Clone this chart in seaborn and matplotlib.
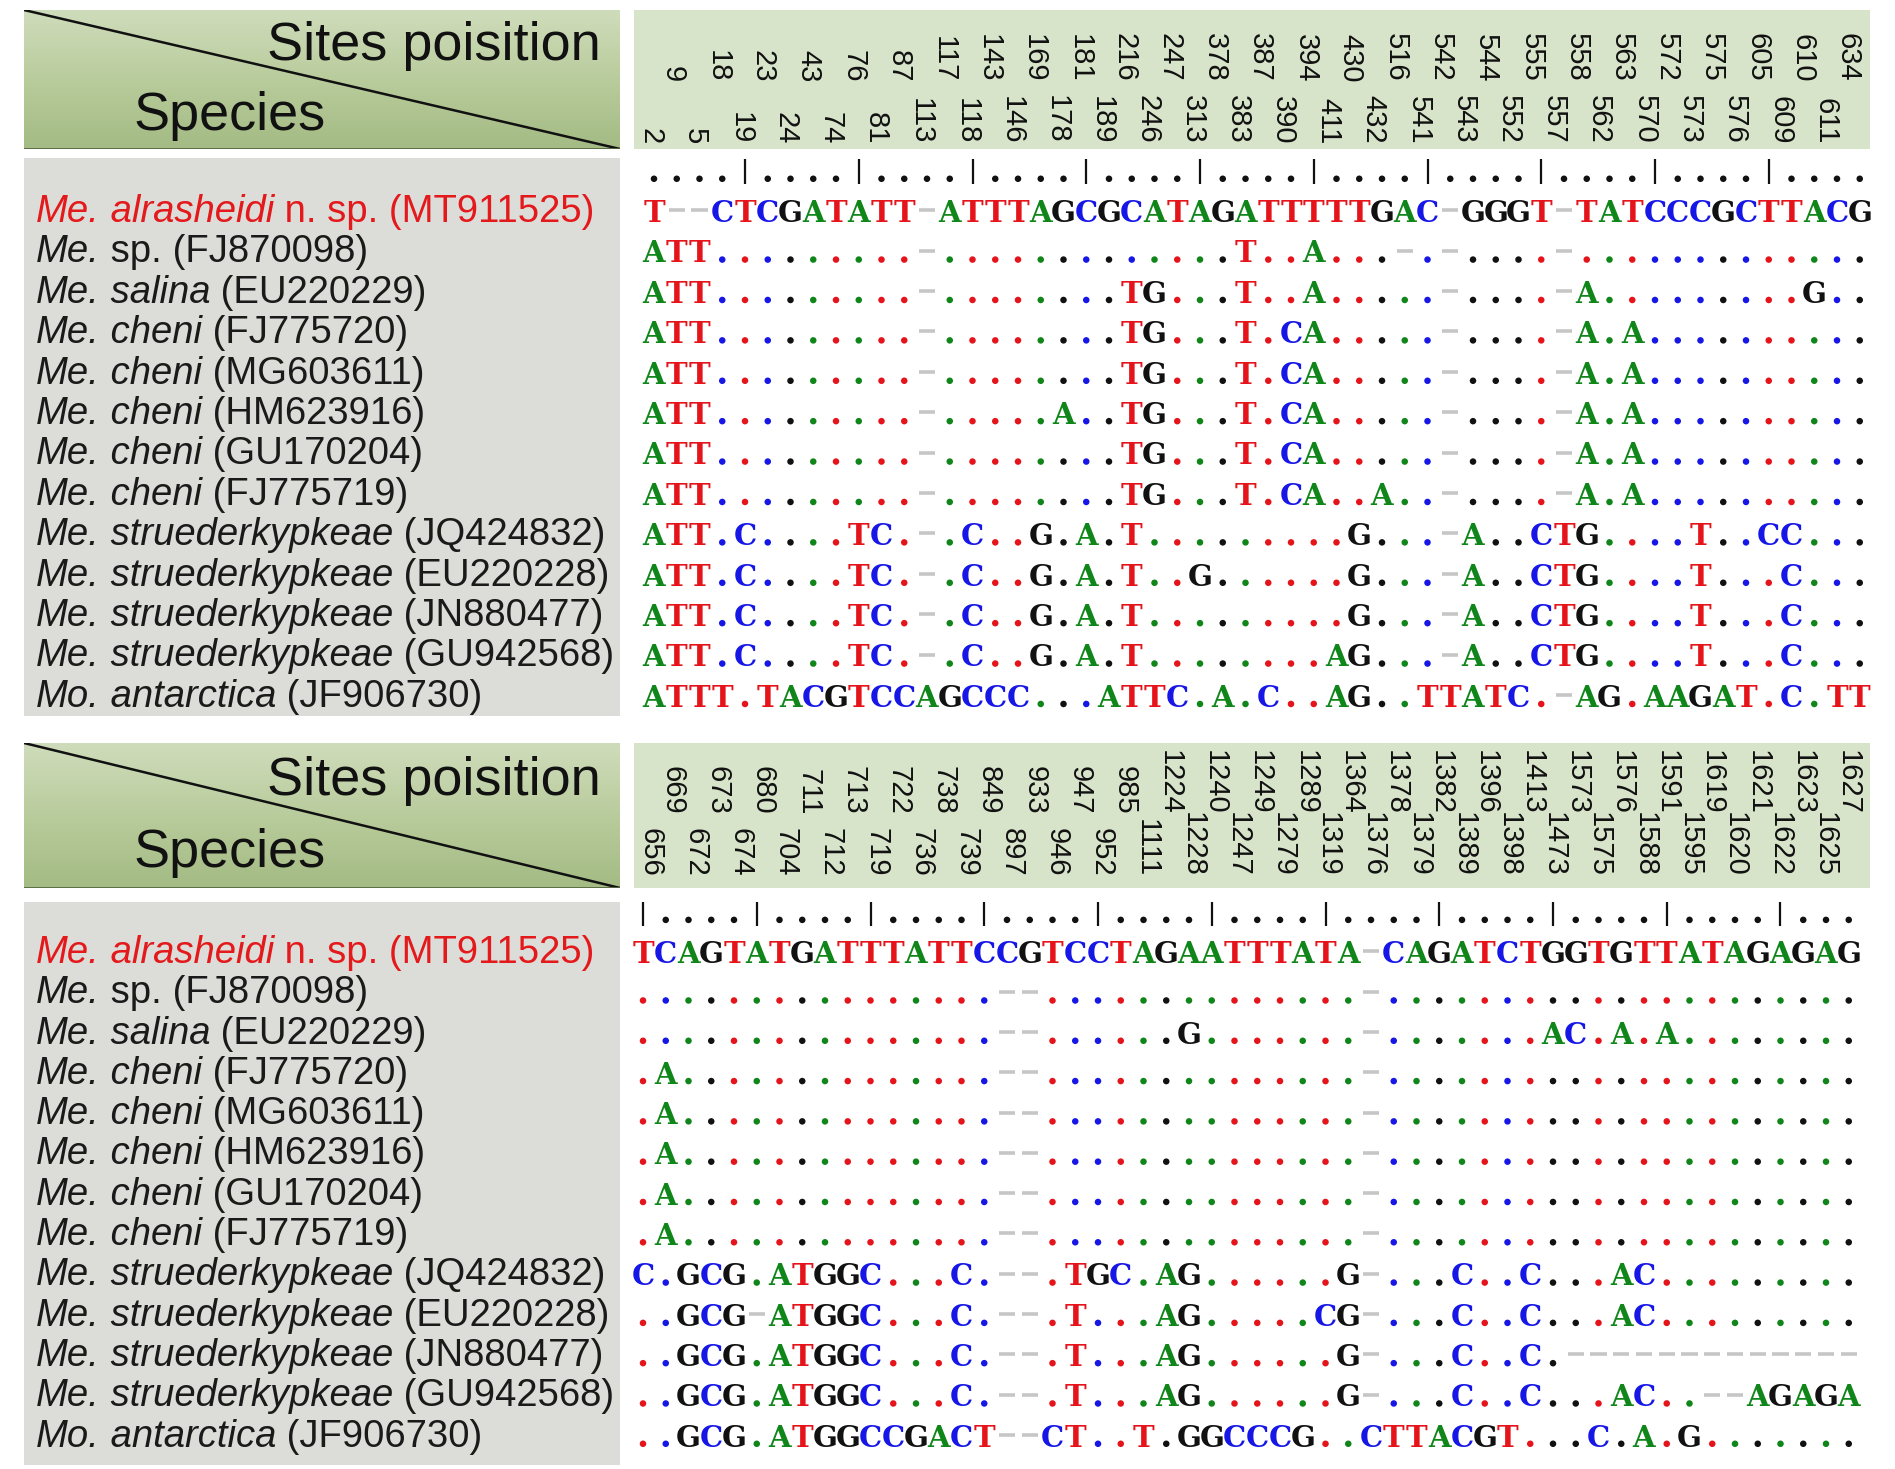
import numpy as np
import pandas as pd
import seaborn as sns
import matplotlib.pyplot as plt
from matplotlib.colors import LinearSegmentedColormap

# ---------------- data ----------------
genus = ['Me.'] * 12 + ['Mo.']
epithet = ['alrasheidi', 'sp.', 'salina', 'cheni', 'cheni', 'cheni', 'cheni', 'cheni',
           'struederkypkeae', 'struederkypkeae', 'struederkypkeae', 'struederkypkeae',
           'antarctica']
epithet_italic = [True, False] + [True] * 11
note = [' n. sp.'] + [''] * 12
accession = ['MT911525', 'FJ870098', 'EU220229', 'FJ775720', 'MG603611', 'HM623916',
             'GU170204', 'FJ775719', 'JQ424832', 'EU220228', 'JN880477', 'GU942568',
             'JF906730']

top_sites_upper = [9, 18, 23, 43, 76, 87, 117, 143, 169, 181, 216, 247, 378, 387, 394, 430,
                   516, 542, 544, 555, 558, 563, 572, 575, 605, 610, 634]
top_sites_lower = [2, 5, 19, 24, 74, 81, 113, 118, 146, 178, 189, 246, 313, 383, 390, 411,
                   432, 541, 543, 552, 557, 562, 570, 573, 576, 609, 611]
top_seqs = [
    "T--CTCGATATT-ATTTAGCGCATAGATTTTTGAC-GGGT-TATCCCGCTTACG",
    "ATT.........-.............T..A...-.-....-.............",
    "ATT.........-........TG...T..A.....-....-A.........G..",
    "ATT.........-........TG...T.CA.....-....-A.A..........",
    "ATT.........-........TG...T.CA.....-....-A.A..........",
    "ATT.........-.....A..TG...T.CA.....-....-A.A..........",
    "ATT.........-........TG...T.CA.....-....-A.A..........",
    "ATT.........-........TG...T.CA..A..-....-A.A..........",
    "ATT.C....TC.-.C..G.A.T.........G...-A..CTG....T..CC...",
    "ATT.C....TC.-.C..G.A.T..G......G...-A..CTG....T...C...",
    "ATT.C....TC.-.C..G.A.T.........G...-A..CTG....T...C...",
    "ATT.C....TC.-.C..G.A.T........AG...-A..CTG....T...C...",
    "ATTT.TACGTCCAGCCC...ATTC.A.C..AG..TTATC.-AG.AAGAT.C.TT",
]

bottom_sites_upper = [669, 673, 680, 711, 713, 722, 738, 849, 933, 947, 985, 1224, 1240, 1249,
                      1289, 1364, 1378, 1382, 1396, 1413, 1573, 1576, 1591, 1619, 1621, 1623, 1627]
bottom_sites_lower = [656, 672, 674, 704, 712, 719, 736, 739, 897, 946, 952, 1111, 1228, 1247,
                      1279, 1319, 1376, 1379, 1389, 1398, 1473, 1575, 1588, 1595, 1620, 1622, 1625]
bottom_seqs = [
    "TCAGTATGATTTATTCCGTCCTAGAATTTATA-CAGATCTGGTGTTATAGAGAG",
    "................--..............-.....................",
    "................--......G.......-.......AC.A.A........",
    ".A..............--..............-.....................",
    ".A..............--..............-.....................",
    ".A..............--..............-.....................",
    ".A..............--..............-.....................",
    ".A..............--..............-.....................",
    "C.GCG.ATGGC...C.--.TGC.AG......G-...C..C...AC.........",
    "..GCG-ATGGC...C.--.T...AG.....CG-...C..C...AC.........",
    "..GCG.ATGGC...C.--.T...AG......G-...C..C.-------------",
    "..GCG.ATGGC...C.--.T...AG......G-...C..C...AC..--AGAGA",
    "..GCG.ATGGCCGACT--CT..T.GGCCCG..CTTACGT...C.A.G.......",
]

# ---------------- style ----------------
base_colors = {'A': '#10861a', 'C': '#1616e6', 'G': '#111111', 'T': '#e5141b',
               '-': '#c6c6c6', 'ruler': '#111111'}
gap_color = '#c6c6c6'
band_color = '#d7e4ca'
gray_box = '#dcddd8'
red_name = '#e3191c'
header_cmap = LinearSegmentedColormap.from_list('hdr', ['#cfdcbb', '#b9cc9c', '#a4bb84'])

sns.set_theme(style='white')
plt.rcParams['font.family'] = ['Liberation Sans', 'DejaVu Sans']

W, H = 1895, 1469
fig = plt.figure(figsize=(W / 100, H / 100), dpi=100)
fig.patch.set_facecolor('white')


def px_axes(x0, y0, x1, y1):
    return fig.add_axes([x0 / W, 1 - y1 / H, (x1 - x0) / W, (y1 - y0) / H])


def draw_panel(head, body, base_y, row_step, col0, sites_upper, sites_lower, seqs, ruler_start):
    ref = seqs[0]
    ncol = len(ref)
    step = 22.75

    # left header with diagonal
    ax = px_axes(24, head[0], 620, head[1])
    ax.imshow(np.linspace(0, 1, 200)[:, None], cmap=header_cmap, extent=(0, 1, 1, 0),
              aspect='auto')
    ax.set_xlim(0, 1)
    ax.set_ylim(1, 0)
    ax.plot([0, 1], [0, 1], color='#111111', lw=1.8)
    ax.axhline(1, color='#55663f', lw=2)
    ax.text(0.968, 0.26, 'Sites poisition', ha='right', va='center', fontsize=39,
            color='#111111')
    ax.text(0.183, 0.76, 'Species', ha='left', va='center', fontsize=39, color='#111111')
    ax.axis('off')

    # site position band
    hh = head[1] - head[0]
    ax = px_axes(634, head[0], 1870, head[1])
    ax.set_facecolor(band_color)
    ax.set_xlim((634 - 650) / 22.6, (1870 - 650) / 22.6)
    ax.set_ylim(hh, 0)
    for i, (u, l) in enumerate(zip(sites_upper, sites_lower)):
        ax.text(2 * i + 1, 72, str(u), rotation=-90, ha='center', va='bottom', fontsize=21,
                color='#111111')
        ax.text(2 * i, 134, str(l), rotation=-90, ha='center', va='bottom', fontsize=21,
                color='#111111')
    ax.set_xticks([])
    ax.set_yticks([])
    for s in ax.spines.values():
        s.set_visible(False)

    ylim = ((body[1] - base_y) / row_step, (body[0] - base_y) / row_step)

    # species names box
    ax = px_axes(24, body[0], 620, body[1])
    ax.set_facecolor(gray_box)
    ax.set_xlim(24, 620)
    ax.set_ylim(*ylim)
    for r in range(len(seqs)):
        col = red_name if r == 0 else '#1a1a1a'
        t = ax.text(36, r, genus[r], style='italic', fontsize=27.5, color=col,
                    ha='left', va='baseline')
        t = ax.annotate(' ' + epithet[r], xy=(1, 0), xycoords=t, ha='left', va='bottom',
                        style='italic' if epithet_italic[r] else 'normal',
                        fontsize=27.5, color=col)
        ax.annotate(note[r] + ' (' + accession[r] + ')', xy=(1, 0), xycoords=t,
                    ha='left', va='bottom', fontsize=27.5, color=col)
    ax.set_xticks([])
    ax.set_yticks([])
    for s in ax.spines.values():
        s.set_visible(False)

    # alignment
    ax = px_axes(634, body[0], 1870, body[1])
    recs = []
    bars = []
    for c in range(ncol):
        if (ruler_start + c + 1) % 5 == 0:
            bars.append(c)
        else:
            recs.append((c, -1, 'ruler'))
    for r, seq in enumerate(seqs):
        for c, ch in enumerate(seq):
            if ch == '.':
                recs.append((c, r, ref[c]))
    dots = pd.DataFrame(recs, columns=['col', 'row', 'base'])
    dots['y'] = dots['row'] - 0.07
    sns.scatterplot(data=dots, x='col', y='y', hue='base', palette=base_colors, s=22,
                    linewidth=0, legend=False, ax=ax)
    ax.vlines(bars, -1.56, -0.93, color='#111111', lw=1.6)
    for r, seq in enumerate(seqs):
        gaps = [c for c, ch in enumerate(seq) if ch == '-']
        if gaps:
            ax.hlines([r - 0.29] * len(gaps), np.array(gaps) - 0.36, np.array(gaps) + 0.36,
                      color=gap_color, lw=2.6)
        for c, ch in enumerate(seq):
            if ch in 'ACGT':
                ax.text(c, r, ch, ha='center', va='baseline', color=base_colors[ch],
                        family='DejaVu Serif', weight='bold', fontsize=21)
    ax.set_xlim((634 - col0) / step, (1870 - col0) / step)
    ax.set_ylim(*ylim)
    ax.axis('off')


draw_panel((10, 149), (158, 716), 222, 40.4, 654,
           top_sites_upper, top_sites_lower, top_seqs, 0)
draw_panel((743, 888), (902, 1465), 963, 40.3, 643,
           bottom_sites_upper, bottom_sites_lower, bottom_seqs, len(top_seqs[0]))

fig.savefig('out.png', dpi=100, facecolor='white')
